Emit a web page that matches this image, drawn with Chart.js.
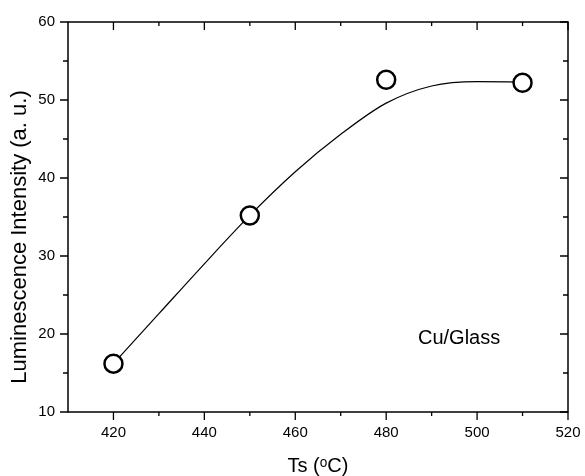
<!DOCTYPE html>
<html>
<head>
<meta charset="utf-8">
<script src="https://cdn.jsdelivr.net/npm/chart.js@4/dist/chart.umd.min.js"></script>
<style>
  html, body { margin: 0; padding: 0; background: #fff; }
  #wrap { width: 585px; height: 476px; }
</style>
</head>
<body>
<div id="wrap"><canvas id="lumChart" width="585" height="476"></canvas></div>
<script>
// measured points (Ts in °C, intensity in a.u.)
const tempPoints = [420, 450, 480, 510];
const intensityPoints = [16.2, 35.2, 52.6, 52.2];

// fitted curve, every 10 °C
const fitTemps = [420, 430, 440, 450, 460, 470, 480, 490, 500, 510];
const fitValues = [16.2, 22.6, 29.0, 35.2, 40.8, 45.6, 49.6, 51.8, 52.35, 52.3];

// axis ticks
const xTicks = [420, 440, 460, 480, 500, 520];
const xMinorTicks = [430, 450, 470, 490, 510];
const yTicks = [10, 20, 30, 40, 50, 60];
const yMinorTicks = [15, 25, 35, 45, 55];

const FONT = "'Liberation Sans', Arial, sans-serif";
const noteText = 'Cu/Glass';
const notePos = { x: 487, y: 19.4 };

// frame, mirrored ticks, y title and the sample note
const frameAndTicks = {
  id: 'frameAndTicks',
  afterDraw(chart) {
    const { ctx, chartArea: a, scales: { x, y } } = chart;
    ctx.save();
    ctx.strokeStyle = '#000';
    ctx.lineWidth = 1.5;
    ctx.strokeRect(a.left, a.top, a.right - a.left, a.bottom - a.top);

    ctx.lineWidth = 1.3;
    ctx.beginPath();
    const tickX = (vals, len) => vals.forEach(v => {
      const px = x.getPixelForValue(v);
      ctx.moveTo(px, a.bottom); ctx.lineTo(px, a.bottom + len);   // outward
      ctx.moveTo(px, a.top); ctx.lineTo(px, a.top + len);         // inward
    });
    const tickY = (vals, len) => vals.forEach(v => {
      const py = y.getPixelForValue(v);
      ctx.moveTo(a.left - len, py); ctx.lineTo(a.left, py);
      ctx.moveTo(a.right, py); ctx.lineTo(a.right - len, py);
    });
    tickX(xTicks, 8);
    tickX(xMinorTicks, 4);
    tickY(yTicks, 8);
    tickY(yMinorTicks, 5);
    ctx.stroke();

    // y axis title
    ctx.fillStyle = '#000';
    ctx.font = `22px ${FONT}`;
    ctx.textAlign = 'center';
    ctx.textBaseline = 'middle';
    ctx.translate(20, 237);
    ctx.rotate(-Math.PI / 2);
    ctx.fillText('Luminescence Intensity (a. u.)', 0, 0);
    ctx.setTransform(1, 0, 0, 1, 0, 0);

    // note
    ctx.font = `20px ${FONT}`;
    ctx.textAlign = 'left';
    ctx.fillText(noteText, x.getPixelForValue(notePos.x), y.getPixelForValue(notePos.y));
    ctx.restore();
  }
};

new Chart(document.getElementById('lumChart'), {
  data: {
    datasets: [
      {
        type: 'scatter',
        label: 'Measured',
        data: tempPoints.map((t, i) => ({ x: t, y: intensityPoints[i] })),
        pointStyle: 'circle',
        pointRadius: 9,
        pointBorderWidth: 2.5,
        pointBackgroundColor: '#fff',
        pointBorderColor: '#000',
        showLine: false
      },
      {
        type: 'line',
        label: 'Fit',
        data: fitTemps.map((t, i) => ({ x: t, y: fitValues[i] })),
        borderColor: '#000',
        borderWidth: 1.2,
        pointRadius: 0,
        cubicInterpolationMode: 'monotone',
        fill: false
      }
    ]
  },
  options: {
    responsive: false,
    animation: false,
    layout: { padding: { top: 19, right: 17, left: 0, bottom: 0 } },
    plugins: {
      legend: { display: false },
      tooltip: { enabled: false }
    },
    scales: {
      x: {
        type: 'linear',
        min: 410,
        max: 520,
        border: { display: false },
        grid: { display: false, drawTicks: false },
        afterBuildTicks: scale => { scale.ticks = xTicks.map(v => ({ value: v })); },
        afterFit: scale => {
          scale.height = 64;
          scale.paddingLeft = 0;
          scale.paddingRight = 0;
        },
        ticks: {
          padding: 12,
          color: '#000',
          maxRotation: 0,
          font: { family: FONT, size: 15 }
        },
        title: {
          display: true,
          text: 'Ts (ᵒC)',
          color: '#000',
          padding: { top: 0, bottom: 0 },
          font: { family: FONT, size: 20, lineHeight: 1 }
        }
      },
      y: {
        type: 'linear',
        min: 10,
        max: 60,
        border: { display: false },
        grid: { display: false, drawTicks: false },
        afterBuildTicks: scale => { scale.ticks = yTicks.map(v => ({ value: v })); },
        afterFit: scale => { scale.width = 68; },
        ticks: {
          padding: 13,
          color: '#000',
          font: { family: FONT, size: 15 }
        }
      }
    }
  },
  plugins: [frameAndTicks]
});
</script>
</body>
</html>
